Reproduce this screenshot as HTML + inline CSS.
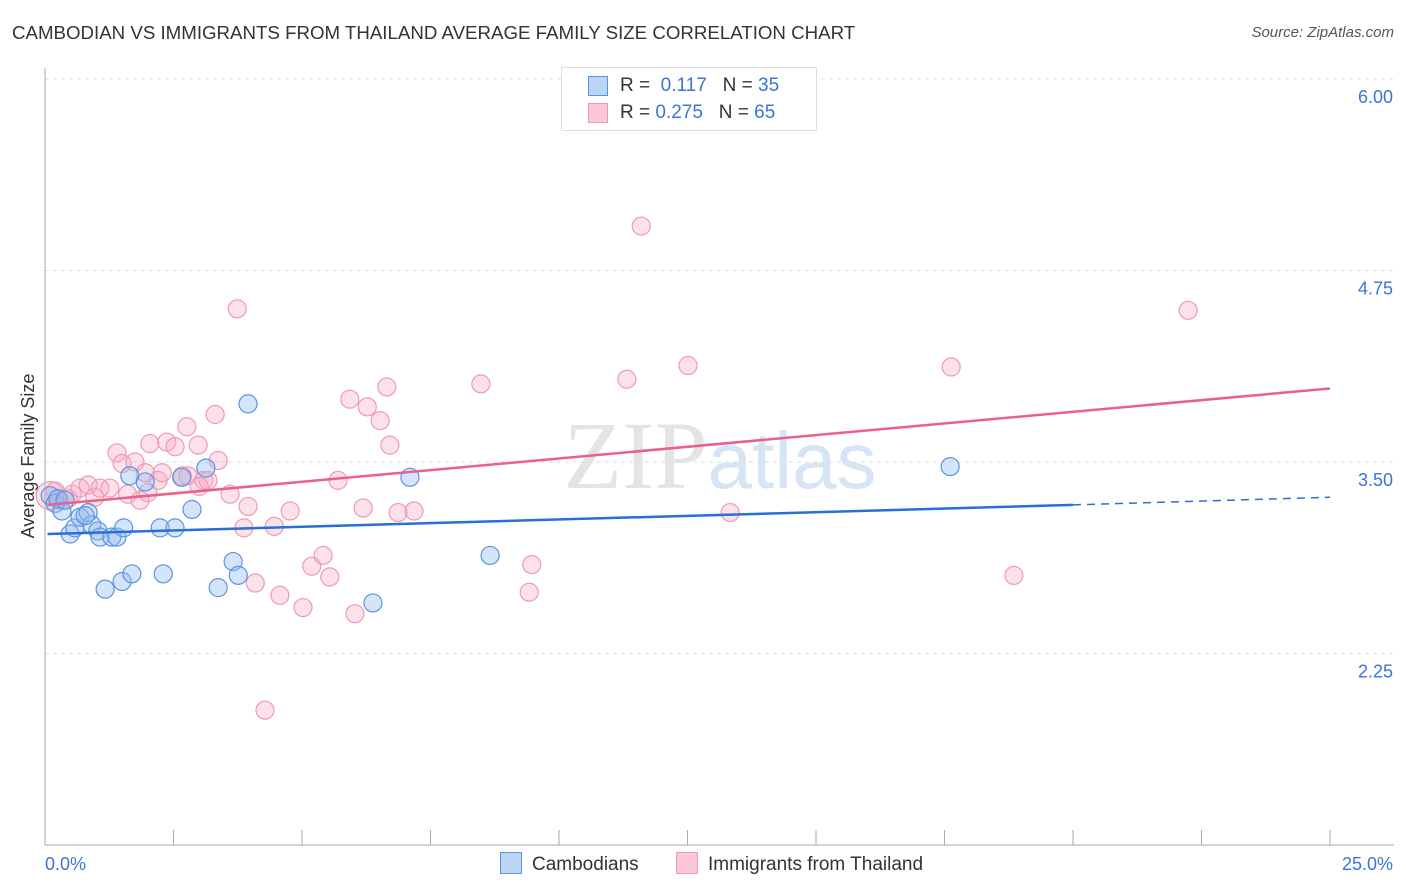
<!DOCTYPE html>
<html><head><meta charset="utf-8"><style>
body{margin:0;background:#fff;font-family:"Liberation Sans",sans-serif;}
#wrap{position:relative;width:1406px;height:892px;overflow:hidden}
.t{position:absolute;white-space:nowrap}
</style></head><body>
<div id="wrap">
<div class="t" style="left:12px;top:22px;font-size:18.7px;color:#333">CAMBODIAN VS IMMIGRANTS FROM THAILAND AVERAGE FAMILY SIZE CORRELATION CHART</div>
<div class="t" style="right:12px;top:24px;font-size:15px;color:#555;font-style:italic">Source: ZipAtlas.com</div>
<svg id="svg" width="1406" height="892" style="position:absolute;left:0;top:0"></svg>
</div>
<script>
const yTicks=[6.00,4.75,3.50,2.25];
const xTickLabels=["0.0%","25.0%"];
const blueX=[0.1,0.2,0.33,0.49,0.58,0.68,0.84,0.91,1.03,1.07,1.3,1.4,1.53,1.17,1.5,1.69,1.65,1.95,2.24,2.3,2.53,2.66,2.86,3.13,3.37,3.66,3.76,3.95,6.38,7.1,8.66,17.61,0.25,0.39,0.78];
const blueY=[3.28,3.23,3.18,3.03,3.07,3.14,3.17,3.09,3.05,3.01,3.01,3.01,3.07,2.67,2.72,2.77,3.41,3.37,3.07,2.77,3.07,3.40,3.19,3.46,2.68,2.85,2.76,3.88,2.58,3.40,2.89,3.47,3.26,3.25,3.15];
const pinkX=[0.1,0.2,0.29,0.45,0.53,0.68,0.84,0.97,1.07,1.26,1.4,1.5,1.61,1.75,1.85,1.95,2.04,2.2,2.28,2.37,2.53,2.67,2.76,2.78,2.98,3.09,3.17,3.31,3.37,3.6,3.74,3.87,3.95,4.09,4.46,4.57,4.77,5.02,5.19,5.41,5.54,5.7,5.93,6.03,6.19,6.27,6.52,6.65,6.71,6.87,7.18,8.48,9.42,9.47,11.32,11.6,12.51,13.33,17.63,18.85,22.24,4.28,3.0,2.0];
const pinkY=[3.28,3.31,3.25,3.26,3.29,3.33,3.35,3.27,3.33,3.33,3.56,3.49,3.29,3.5,3.25,3.43,3.62,3.38,3.43,3.63,3.60,3.41,3.73,3.41,3.61,3.38,3.38,3.81,3.51,3.29,4.50,3.07,3.21,2.71,3.08,2.63,3.18,2.55,2.82,2.89,2.75,3.38,3.91,2.51,3.20,3.86,3.77,3.99,3.61,3.17,3.18,4.01,2.65,2.83,4.04,5.04,4.13,3.17,4.12,2.76,4.49,1.88,3.34,3.30];
const blueLine=[0.05,3.03,20.0,3.22,25,3.27];
const pinkLine=[0.05,3.22,25,3.98];
const X=v=>45+v/25*1285, Y=v=>79+(6-v)*153.2;
const svg=document.getElementById('svg');const NS='http://www.w3.org/2000/svg';
function mk(tag,a){const e=document.createElementNS(NS,tag);for(const k in a)e.setAttribute(k,a[k]);svg.appendChild(e);return e;}
for(const v of yTicks){const g=mk('line',{x1:45,x2:1394,y1:Y(v),y2:Y(v),stroke:'#ddd','stroke-dasharray':'4,4'});


const t=mk('text',{x:1393,y:Y(v)+24,'text-anchor':'end','font-size':18,fill:'#3b73d9','font-family':'Liberation Sans'});t.textContent=v.toFixed(2);

}
const ax=mk('line',{x1:45,x2:45,y1:68,y2:845,stroke:'#aaa'});
const bx=mk('line',{x1:45,x2:1394,y1:845,y2:845,stroke:'#aaa'});
for(let k=0;k<=10;k++){const tk=mk('line',{x1:X(k*2.5),x2:X(k*2.5),y1:830,y2:845,stroke:'#aaa'});

}
const xl0=mk('text',{x:45,y:870,'font-size':18,fill:'#3b73d9','font-family':'Liberation Sans'});xl0.textContent=xTickLabels[0];


const xl1=mk('text',{x:1393,y:870,'text-anchor':'end','font-size':18,fill:'#3b73d9','font-family':'Liberation Sans'});xl1.textContent=xTickLabels[1];


const yt=mk('text',{x:34,y:456,'text-anchor':'middle','font-size':18,fill:'#333',transform:'rotate(-90 34 456)','font-family':'Liberation Sans'});yt.textContent='Average Family Size';


const wm=mk('text',{x:720,y:488,'text-anchor':'middle','font-size':96,fill:'#e4e4e4','font-family':'Liberation Serif'});wm.innerHTML='ZIP<tspan fill="#d6e4f5" font-family="Liberation Sans" font-size="80">atlas</tspan>';


for(let i=0;i<pinkX.length;i++){const c=mk('circle',{cx:X(pinkX[i]),cy:Y(pinkY[i]),r:i==0?14:9,fill:'rgba(246,170,195,0.35)',stroke:'#ee9ab5','stroke-width':1.2});

}
for(let i=0;i<blueX.length;i++){const c=mk('circle',{cx:X(blueX[i]),cy:Y(blueY[i]),r:9,fill:'rgba(150,190,240,0.4)',stroke:'#5b93e0','stroke-width':1.2});

}
const bl=mk('line',{x1:X(blueLine[0]),y1:Y(blueLine[1]),x2:X(blueLine[2]),y2:Y(blueLine[3]),stroke:'#2a6fd6','stroke-width':2.5});


const bd=mk('line',{x1:X(blueLine[2]),y1:Y(blueLine[3]),x2:X(blueLine[4]),y2:Y(blueLine[5]),stroke:'#2a6fd6','stroke-width':1.5,'stroke-dasharray':'8,6'});


const pl=mk('line',{x1:X(pinkLine[0]),y1:Y(pinkLine[1]),x2:X(pinkLine[2]),y2:Y(pinkLine[3]),stroke:'#e8608c','stroke-width':2.5});


</script>
<div class="t" style="left:561px;top:67px;width:254px;height:62px;border:1px solid #ddd;background:#fff;font-size:19px;color:#333">
<div style="position:absolute;left:26px;top:8px;width:18px;height:18px;background:#bcd5f5;border:1px solid #5b93e0"></div>
<div style="position:absolute;left:58px;top:7px">R = &nbsp;<span style="color:#3b73d9">0.117</span> &nbsp;&nbsp;N = <span style="color:#3b73d9">35</span></div>
<div style="position:absolute;left:26px;top:35px;width:18px;height:18px;background:#f9c8d8;border:1px solid #ee9ab5"></div>
<div style="position:absolute;left:58px;top:34px">R = <span style="color:#3b73d9">0.275</span> &nbsp;&nbsp;N = <span style="color:#3b73d9">65</span></div>
</div>
<div class="t" style="left:500px;top:852px;font-size:19px;color:#333"><span style="display:inline-block;width:20px;height:20px;background:#bcd5f5;border:1px solid #5b93e0;vertical-align:-4px;margin-right:10px"></span>Cambodians</div>
<div class="t" style="left:676px;top:852px;font-size:19px;color:#333"><span style="display:inline-block;width:20px;height:20px;background:#f9c8d8;border:1px solid #ee9ab5;vertical-align:-4px;margin-right:10px"></span>Immigrants from Thailand</div>
</body></html>
